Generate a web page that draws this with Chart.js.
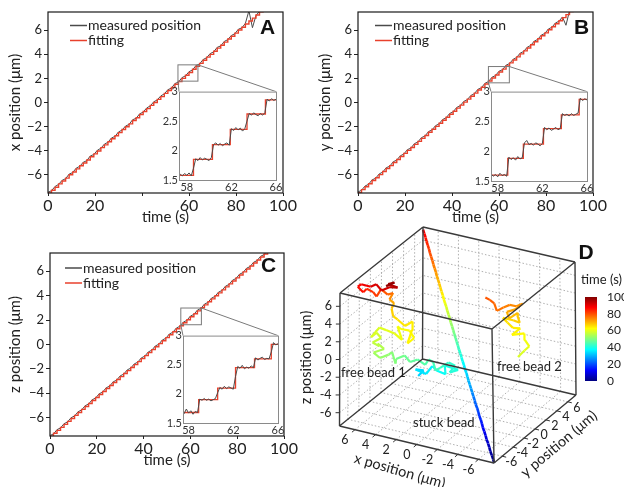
<!DOCTYPE html>
<html>
<head>
<meta charset="utf-8">
<script src="https://cdn.jsdelivr.net/npm/chart.js@4"></script>
<style>
html, body { margin: 0; padding: 0; background: #fff; }
#fig { position: relative; width: 624px; height: 487px; overflow: hidden; }
#fig canvas { position: absolute; }
</style>
</head>
<body>
<div id="fig">
  <canvas id="chartA" width="300" height="226" style="left:0px;top:0px"></canvas>
  <canvas id="insetA" width="140" height="112" style="left:150px;top:84px"></canvas>
  <canvas id="chartB" width="314" height="226" style="left:310px;top:0px"></canvas>
  <canvas id="insetB" width="140" height="112" style="left:460px;top:84px"></canvas>
  <canvas id="chartC" width="300" height="229" style="left:0px;top:240px"></canvas>
  <canvas id="insetC" width="140" height="112" style="left:150px;top:328px"></canvas>
  <canvas id="chartD" width="324" height="265" style="left:300px;top:222px"></canvas>
  <canvas id="colorbar" width="49" height="125" style="left:575px;top:268px"></canvas>
</div>
<script>
// Data Store
const tMain = [0,1.5,3,4.5,6,7.5,9,10.5,12,13.5,15,16.5,18,19.5,21,22.5,24,25.5,27,28.5,30,31.5,33,34.5,36,37.5,39,40.5,42,43.5,45,46.5,48,49.5,51,52.5,54,55.5,57,58.5,60,61.5,63,64.5,66,67.5,69,70.5,72,73.5,75,76.5,78,79.5,81,82.5,84,85.5,87,88.5,90,91.5,93];

// fitted staircase (um)
const fitX = [-7.50,-7.27,-7.02,-6.74,-6.51,-6.27,-5.99,-5.76,-5.50,-5.24,
  -5.01,-4.77,-4.49,-4.26,-4.02,-3.74,-3.51,-3.25,-3.00,-2.76,
  -2.50,-2.24,-2.01,-1.77,-1.49,-1.26,-1.00,-0.75,-0.51,-0.24,
  0.00,0.26,0.49,0.76,1.00,1.24,1.51,1.74,2.00,2.26,
  2.49,2.75,3.01,3.24,3.50,3.76,3.99,4.25,4.51,4.74,
  5.00,5.26,5.49,5.75,6.01,6.24,6.50,6.76,6.99,7.25,
  7.51,7.76,8.01];
const fitY = [-7.48,-7.22,-6.98,-6.73,-6.47,-6.23,-5.98,-5.72,-5.47,-5.23,
  -4.97,-4.72,-4.48,-4.22,-3.97,-3.73,-3.47,-3.22,-2.97,-2.73,
  -2.47,-2.22,-1.98,-1.72,-1.47,-1.22,-0.97,-0.72,-0.47,-0.22,
  0.03,0.28,0.52,0.78,1.03,1.27,1.53,1.78,2.03,2.28,
  2.53,2.77,3.03,3.28,3.52,3.78,4.03,4.28,4.52,4.78,
  5.03,5.28,5.53,5.77,6.03,6.28,6.53,6.78,7.03,7.28,
  7.53,7.78,8.03];
const fitZ = [-7.52,-7.28,-7.04,-6.79,-6.55,-6.30,-6.06,-5.81,-5.57,-5.32,
  -5.08,-4.83,-4.59,-4.34,-4.10,-3.85,-3.61,-3.36,-3.12,-2.87,
  -2.63,-2.38,-2.14,-1.89,-1.65,-1.40,-1.16,-0.91,-0.67,-0.42,
  -0.18,0.07,0.31,0.56,0.80,1.05,1.29,1.54,1.78,2.03,
  2.27,2.52,2.76,3.01,3.25,3.50,3.74,3.99,4.23,4.48,
  4.72,4.97,5.21,5.46,5.70,5.95,6.19,6.44,6.68,6.93,
  7.17,7.42,7.66];

// measured positions (um)
const measX = [-7.44,-7.31,-6.96,-6.79,-6.45,-6.31,-5.93,-5.81,-5.44,-5.29,
  -4.95,-4.82,-4.43,-4.31,-3.96,-3.79,-3.45,-3.30,-2.94,-2.81,
  -2.44,-2.29,-1.95,-1.82,-1.43,-1.31,-0.94,-0.80,-0.45,-0.29,
  0.06,0.21,0.55,0.71,1.06,1.19,1.57,1.69,2.06,2.21,
  2.55,2.70,3.07,3.19,3.56,3.71,4.05,4.20,4.57,4.69,
  5.06,5.21,5.55,5.70,6.07,6.19,6.56,7.60,6.20,7.20,
  7.57,7.71,8.07];
const measY = [-7.42,-7.27,-6.92,-6.78,-6.41,-6.28,-5.92,-5.77,-5.41,-5.28,
  -4.91,-4.77,-4.42,-4.27,-3.91,-3.78,-3.41,-3.27,-2.91,-2.78,
  -2.41,-2.27,-1.92,-1.77,-1.41,-1.27,-0.91,-0.77,-0.41,-0.27,
  0.09,0.23,0.58,0.73,1.09,1.22,1.59,1.73,2.09,2.23,
  2.59,2.72,3.09,3.23,3.58,3.73,4.09,4.23,4.58,4.73,
  5.09,5.23,5.59,5.72,6.09,6.23,6.59,6.73,7.09,6.40,
  7.59,7.73,8.09];
const measZ = [-7.46,-7.33,-6.98,-6.84,-6.49,-6.35,-6.00,-5.86,-5.51,-5.37,
  -5.02,-4.88,-4.53,-4.39,-4.04,-3.90,-3.55,-3.41,-3.06,-2.92,
  -2.57,-2.43,-2.08,-1.94,-1.59,-1.45,-1.10,-0.96,-0.61,-0.47,
  -0.12,0.02,0.37,0.51,0.86,1.00,1.35,1.49,1.84,1.98,
  2.33,2.47,2.82,2.96,3.31,3.45,3.80,3.94,4.29,4.43,
  4.78,4.92,5.27,5.41,5.76,5.90,6.25,6.39,6.74,6.88,
  7.23,7.37,7.72];

// zoomed insets, 58-66 s
const tInset = [57.4,57.6,57.8,58,58.2,58.4,58.6,58.8,59,59.2,59.4,59.6,59.8,60,60.2,60.4,60.6,60.8,61,61.2,61.4,61.6,61.8,62,62.2,62.4,62.6,62.8,63,63.2,63.4,63.6,63.8,64,64.2,64.4,64.6,64.8,65,65.2,65.4,65.6,65.8,66];
const insetMeasX = [1.60,1.57,1.61,1.58,1.62,1.57,1.70,1.86,1.83,1.88,
  1.84,1.87,1.85,1.83,1.88,2.10,2.13,2.09,2.12,2.08,
  2.11,2.13,2.09,2.37,2.34,2.39,2.35,2.38,2.33,2.37,
  2.50,2.63,2.60,2.64,2.61,2.59,2.63,2.60,2.64,2.87,
  2.84,2.88,2.85,2.87];
const insetMeasY = [1.62,1.58,1.61,1.57,1.63,1.59,1.61,1.58,1.90,1.86,
  1.89,1.85,1.91,1.87,1.89,2.14,2.18,2.11,2.13,2.10,
  2.14,2.12,2.09,2.13,2.40,2.36,2.39,2.35,2.37,2.40,
  2.36,2.38,2.63,2.60,2.62,2.59,2.63,2.60,2.62,2.64,
  2.89,2.85,2.88,2.86];
const insetMeasZ = [1.70,1.66,1.74,1.67,1.71,1.65,1.70,1.68,1.91,1.89,
  1.92,1.89,1.91,1.88,1.90,1.92,2.02,2.11,2.08,2.13,
  2.09,2.12,2.10,2.08,2.30,2.47,2.44,2.49,2.43,2.46,
  2.44,2.48,2.45,2.62,2.58,2.61,2.63,2.59,2.61,2.60,
  2.72,2.88,2.84,2.86];
const insetStepTX = [57.3,58.6,60.3,61.9,63.4,65.05,66];
const insetStepX = [1.58,1.85,2.10,2.36,2.62,2.86,2.86];
const insetStepTY = [57.4,58.9,60.3,62.1,63.7,65.3,66];
const insetStepY = [1.60,1.88,2.12,2.38,2.61,2.87,2.87];
const insetStepTZ = [57.5,58.9,60.6,62.2,63.9,65.4,66];
const insetStepZ = [1.68,1.90,2.10,2.45,2.60,2.85,2.85];

// tick labels
const timeTicks = [0, 20, 40, 60, 80, 100];
const posTicks = [-6, -4, -2, 0, 2, 4, 6];
const insetTimeTicks = [58, 62, 66];
const insetPosTicks = [1.5, 2, 2.5, 3];
const colorTicks = [0, 20, 40, 60, 80, 100];

// free beads in 3D (um) and time (s)
const bead1T = [33,34,35,36,37,38,39,40,41,41.5,42,43,44,44.5,45,45.5,46,47,48,49,
  50,50.5,51,52,53,54,55,55.5,56,57,58,58.5,59,59.5,60,60.5,61,61.5,62,62.5,
  63,63.5,64,64.5,65,66,67,69,71,74,77,79,81,82,83,85,86,87,89,91,91.5,92,94,95,96,98,99];
const bead1X = [1.45,0.96,1.65,0.67,0.18,-0.41,-1.29,-1.10,-2.47,-1.69,
  -2.18,-1.49,-0.71,-0.31,-0.02,0.47,0.76,1.45,2.24,2.82,
  3.61,3.61,4.00,4.39,5.18,5.76,4.78,5.47,5.27,5.86,
  5.08,5.57,6.06,5.18,4.59,3.80,3.02,3.41,3.12,2.33,
  1.84,2.43,2.04,2.04,2.73,3.41,3.90,4.10,3.80,4.20,
  3.90,4.49,5.08,5.47,5.86,6.55,6.84,7.33,7.04,6.16,
  5.57,4.98,4.20,3.51,4.39,3.71,4.59];
const bead1Y = [-4.5,-4.4,-4.6,-4.5,-4.3,-4.5,-4.6,-4.4,-4.5,-4.6,
  -4.5,-4.4,-4.5,-4.6,-4.5,-4.4,-4.5,-4.6,-4.5,-4.4,
  -4.5,-4.6,-4.5,-4.4,-4.5,-4.6,-4.5,-4.4,-4.5,-4.6,
  -4.5,-4.4,-4.5,-4.6,-4.5,-4.4,-4.5,-4.6,-4.5,-4.4,
  -4.5,-4.6,-4.5,-4.4,-4.5,-4.6,-4.5,-4.4,-4.5,-4.6,
  -4.5,-4.4,-4.5,-4.6,-4.5,-4.4,-4.5,-4.6,-4.5,-4.4,
  -4.5,-4.6,-4.5,-4.4,-4.5,-4.6,-4.5];
const bead1Z = [-1.71,-0.99,-0.97,-1.27,-0.34,-0.62,-0.72,0.12,0.05,-0.39,
  0.43,0.57,-0.21,-0.54,0.28,0.37,-0.27,0.21,-0.34,0.18,
  -0.39,-0.84,0.30,-0.15,-0.70,-0.19,0.43,0.80,0.62,0.91,
  1.58,2.00,1.42,2.79,2.61,2.38,1.93,3.39,3.13,3.12,
  2.47,1.74,3.32,4.22,3.58,4.18,4.38,5.12,5.87,6.22,
  6.98,6.59,7.10,6.21,6.55,6.69,6.28,6.82,7.12,7.03,
  7.53,7.02,7.57,7.65,7.86,8.27,7.57];
const bead2T = [59,60,61,62,63,63.5,64,65,65.5,66,67,67.5,68,69,70,71,72,73,74,75,76,77,78,79,80];
const bead2X = [-2.65,-3.24,-3.82,-3.33,-3.24,-2.06,-2.94,-2.16,-1.57,-1.18,
  -2.25,-2.84,-2.55,-2.65,-1.86,-1.57,-2.35,-3.14,-2.55,-1.86,
  -1.18,-0.59,-0.39,0.10,0.59];
const bead2Y = [6.0,6.1,5.9,6.0,6.1,6.0,5.9,6.0,6.1,6.0,
  5.9,6.0,6.1,6.0,5.9,6.0,6.1,6.0,5.9,6.0,
  6.1,6.0,5.9,6.0,6.1];
const bead2Z = [-3.75,-2.91,-2.18,-1.63,-0.99,-1.42,-0.39,-0.60,-0.20,0.27,
  0.34,0.16,0.87,1.23,0.45,1.05,1.49,2.39,2.00,1.92,
  1.40,0.90,1.75,1.96,2.05];

const FONT = 'Lato, "DejaVu Sans", sans-serif';
const GREY = '#4a4a4a';
const RED = '#e8412c';
const INK = '#222';
Chart.defaults.font.family = FONT;
Chart.defaults.color = INK;

const fmtNum = v => (v < 0 ? '\u2212' + Math.abs(v) : String(v));
const toPoints = (xs, ys) => xs.map((x, i) => ({ x: x, y: ys[i] }));

function jet(f) {
    const c = v => Math.round(255 * Math.max(0, Math.min(1, v)));
    return 'rgb(' + c(1.5 - Math.abs(4 * f - 3)) + ',' + c(1.5 - Math.abs(4 * f - 2)) + ',' + c(1.5 - Math.abs(4 * f - 1)) + ')';
}

/**
 * Insets
 */
const insetDecor = {
    id: 'insetDecor',
    beforeDraw(chart) {
        const { ctx, chartArea: a } = chart;
        ctx.save();
        ctx.fillStyle = '#fff';
        ctx.fillRect(a.left, a.top, a.right - a.left, a.bottom - a.top);
        ctx.restore();
    },
    afterDraw(chart) {
        const { ctx, chartArea: a } = chart;
        ctx.save();
        ctx.strokeStyle = '#8a8a8a';
        ctx.lineWidth = 1;
        ctx.strokeRect(a.left + 0.5, a.top + 0.5, a.right - a.left, a.bottom - a.top);
        ctx.restore();
    }
};

function makeInset(id, p) {
    return new Chart(document.getElementById(id), {
        type: 'line',
        data: {
            datasets: [
                { data: toPoints(tInset, p.meas), borderColor: GREY, borderWidth: 1, pointRadius: 0, order: 1 },
                { data: toPoints(p.stepT, p.step), borderColor: RED, borderWidth: 1.3, pointRadius: 0, stepped: true, order: 2 }
            ]
        },
        options: {
            responsive: false, animation: false, events: [],
            layout: { padding: { top: 7, right: p.padRight, left: 0, bottom: 0 } },
            plugins: { legend: { display: false }, tooltip: { enabled: false } },
            scales: {
                x: {
                    type: 'linear', min: p.xMin, max: 66,
                    afterBuildTicks: s => { s.ticks = insetTimeTicks.map(v => ({ value: v })); },
                    afterFit: s => { s.height = p.xHeight; },
                    ticks: { font: { size: 11 }, color: '#333', padding: 1, maxRotation: 0, autoSkip: false, callback: v => String(v) },
                    grid: { drawOnChartArea: false, drawTicks: false }, border: { display: false }
                },
                y: {
                    min: 1.5, max: 3,
                    afterBuildTicks: s => { s.ticks = insetPosTicks.map(v => ({ value: v })); },
                    afterFit: s => { s.width = p.yWidth; },
                    ticks: { font: { size: 11 }, color: '#333', padding: 1, autoSkip: false, callback: v => String(v) },
                    grid: { drawOnChartArea: false, drawTicks: false }, border: { display: false }
                }
            }
        },
        plugins: [insetDecor]
    });
}

/**
 * Main panels A, B, C
 */
const panelDecor = {
    id: 'panelDecor',
    afterDraw(chart, args, o) {
        const { ctx, chartArea: a, scales } = chart;
        ctx.save();
        // axes box
        ctx.strokeStyle = '#1a1a1a';
        ctx.lineWidth = 1.2;
        ctx.strokeRect(a.left, a.top, a.right - a.left, a.bottom - a.top);

        // legend
        chart.data.datasets.forEach((ds, i) => {
            const x = a.left + o.legendDx;
            const y = a.top + o.legendDy + i * 15;
            ctx.strokeStyle = ds.borderColor;
            ctx.lineWidth = 1.5;
            ctx.beginPath(); ctx.moveTo(x, y); ctx.lineTo(x + 17, y); ctx.stroke();
            ctx.fillStyle = INK;
            ctx.font = '14px ' + FONT;
            ctx.textAlign = 'left';
            ctx.textBaseline = 'middle';
            ctx.fillText(ds.label, x + 18, y);
        });

        // panel letter
        ctx.fillStyle = '#111';
        ctx.font = 'bold 21px "Liberation Sans", Arial, sans-serif';
        ctx.textAlign = 'center';
        ctx.textBaseline = 'middle';
        ctx.fillText(o.letter, a.right + o.letterDx, a.top + o.letterDy);

        // zoom box and connectors to the inset
        const zb = o.zoomBox;
        const x0 = scales.x.getPixelForValue(zb[0]), x1 = scales.x.getPixelForValue(zb[1]);
        const y0 = scales.y.getPixelForValue(zb[2]), y1 = scales.y.getPixelForValue(zb[3]);
        const ins = o.inset;
        const dx = ins.canvas.offsetLeft - chart.canvas.offsetLeft;
        const dy = ins.canvas.offsetTop - chart.canvas.offsetTop;
        const ia = ins.chartArea;
        ctx.strokeStyle = '#7a7a7a';
        ctx.lineWidth = 1;
        ctx.strokeRect(x0, y1, x1 - x0, y0 - y1);
        ctx.beginPath();
        ctx.moveTo(x0, y0); ctx.lineTo(dx + ia.left, dy + ia.top);
        ctx.moveTo(x1, y1); ctx.lineTo(dx + ia.right, dy + ia.top);
        ctx.stroke();
        ctx.restore();
    }
};

function makeMain(id, p) {
    return new Chart(document.getElementById(id), {
        type: 'line',
        data: {
            datasets: [
                { label: 'measured position', data: toPoints(tMain, p.meas), borderColor: GREY, borderWidth: 1, pointRadius: 0, order: 2 },
                { label: 'fitting', data: toPoints(tMain, p.fit), borderColor: RED, borderWidth: 1.4, pointRadius: 0, stepped: true, order: 1 }
            ]
        },
        options: {
            responsive: false, animation: false, events: [],
            layout: { padding: { top: p.padTop, right: p.padRight, left: 0, bottom: 0 } },
            plugins: {
                legend: { display: false }, tooltip: { enabled: false },
                panelDecor: p.decor
            },
            scales: {
                x: {
                    type: 'linear', min: 0, max: 100,
                    afterBuildTicks: s => { s.ticks = timeTicks.map(v => ({ value: v })); },
                    afterFit: s => { s.height = 33; },
                    ticks: { font: { size: 16 }, color: INK, padding: 0, maxRotation: 0, autoSkip: false,
                        callback: v => (p.hideX.includes(v) ? '' : v) },
                    grid: { drawOnChartArea: false, tickLength: 3, color: '#222' }, border: { display: false },
                    title: { display: true, text: 'time (s)', font: { size: 15 }, color: INK, padding: { top: 0, bottom: 0 } }
                },
                y: {
                    min: -7.5, max: 7.5,
                    afterBuildTicks: s => { s.ticks = posTicks.map(v => ({ value: v })); },
                    afterFit: s => { s.width = p.yWidth; },
                    ticks: { font: { size: 13 }, color: INK, padding: 2, autoSkip: false, callback: v => fmtNum(v) },
                    grid: { drawOnChartArea: false, tickLength: 4, color: '#222' }, border: { display: false },
                    title: { display: true, text: p.yTitle, font: { size: 15 }, color: INK, padding: { top: 6, bottom: 0 } }
                }
            }
        },
        plugins: [panelDecor]
    });
}

const insetA = makeInset('insetA', { meas: insetMeasX, stepT: insetStepTX, step: insetStepX, xMin: 57.3, padRight: 14, xHeight: 16, yWidth: 29 });
const insetB = makeInset('insetB', { meas: insetMeasY, stepT: insetStepTY, step: insetStepY, xMin: 57.4, padRight: 13, xHeight: 15, yWidth: 31 });
const insetC = makeInset('insetC', { meas: insetMeasZ, stepT: insetStepTZ, step: insetStepZ, xMin: 57.5, padRight: 12, xHeight: 17, yWidth: 33 });

makeMain('chartA', { meas: measX, fit: fitX, yTitle: 'x position (\u03bcm)', hideX: [40], padTop: 12, padRight: 17, yWidth: 48,
    decor: { letter: 'A', legendDx: 22, legendDy: 13.5, letterDx: -15.5, letterDy: 16.5, zoomBox: [55.3, 63.8, 1.77, 3.12], inset: insetA } });
makeMain('chartB', { meas: measY, fit: fitY, yTitle: 'y position (\u03bcm)', hideX: [], padTop: 12, padRight: 31, yWidth: 48,
    decor: { letter: 'B', legendDx: 17, legendDy: 13.5, letterDx: -11.5, letterDy: 16.5, zoomBox: [55.5, 64.4, 1.63, 2.98], inset: insetB } });
makeMain('chartC', { meas: measZ, fit: fitZ, yTitle: 'z position (\u03bcm)', hideX: [], padTop: 13, padRight: 16, yWidth: 50,
    decor: { letter: 'C', legendDx: 15, legendDy: 15, letterDx: -15.5, letterDy: 13.5, zoomBox: [55.9, 64.7, 1.62, 2.99], inset: insetC } });

/**
 * Panel D: 3D trajectories, projected onto the page
 */
const LIM = 7.5;
// page position of the eight box corners, keyed u v w
// (u: x from +7.5 to -7.5, v: y from -7.5 to +7.5, w: z from -7.5 to +7.5)
const boxCorners = {
    '000': [339.5, 426], '100': [494, 463], '010': [422.5, 359], '110': [576, 395],
    '001': [340, 293], '101': [492, 329], '011': [423, 227], '111': [575, 262]
};

function project(x, y, z) {
    const u = (LIM - x) / (2 * LIM), v = (y + LIM) / (2 * LIM), w = (z + LIM) / (2 * LIM);
    let px = 0, py = 0;
    Object.keys(boxCorners).forEach(k => {
        const wt = (k[0] === '1' ? u : 1 - u) * (k[1] === '1' ? v : 1 - v) * (k[2] === '1' ? w : 1 - w);
        px += wt * boxCorners[k][0];
        py += wt * boxCorners[k][1];
    });
    return { x: px, y: py };
}

function segments(list) {
    const pts = [];
    list.forEach(seg => {
        pts.push(project(...seg[0]), project(...seg[1]), { x: null, y: null });
    });
    return pts;
}

// 12 box edges
const edgeSegs = [];
[-LIM, LIM].forEach(a => [-LIM, LIM].forEach(b => {
    edgeSegs.push([[-LIM, a, b], [LIM, a, b]]);
    edgeSegs.push([[a, -LIM, b], [a, LIM, b]]);
    edgeSegs.push([[a, b, -LIM], [a, b, LIM]]);
}));

// dotted grid on back wall, left wall and floor
const gridSegs = [];
posTicks.forEach(t => {
    gridSegs.push([[t, LIM, -LIM], [t, LIM, LIM]], [[-LIM, LIM, t], [LIM, LIM, t]]);
    gridSegs.push([[LIM, t, -LIM], [LIM, t, LIM]], [[LIM, -LIM, t], [LIM, LIM, t]]);
    gridSegs.push([[t, -LIM, -LIM], [t, LIM, -LIM]], [[-LIM, t, -LIM], [LIM, t, -LIM]]);
});

// stuck bead: the stage trajectory from panels A-C
const stuckIdx = tMain.map((t, i) => i).filter(i => Math.abs(fitX[i]) <= 7.55 && Math.abs(fitY[i]) <= 7.55 && Math.abs(fitZ[i]) <= 7.55);
const stuckT = stuckIdx.map(i => tMain[i]);
const stuckPts = stuckIdx.map(i => project(fitX[i], fitY[i], fitZ[i]));
const bead1Pts = bead1T.map((t, i) => project(bead1X[i], bead1Y[i], bead1Z[i]));
const bead2Pts = bead2T.map((t, i) => project(bead2X[i], bead2Y[i], bead2Z[i]));

function trackSet(points, times, width) {
    return {
        data: points, showLine: true, pointRadius: 0, borderWidth: width, order: 1,
        borderColor: jet(times[0] / 100), borderJoinStyle: 'round',
        segment: { borderColor: c => jet(times[c.p0DataIndex] / 100) }
    };
}

const dDecor = {
    id: 'dDecor',
    afterDatasetsDraw(chart) {
        const { ctx, scales: { x: sx, y: sy } } = chart;
        const px = p => [sx.getPixelForValue(p.x), sy.getPixelForValue(p.y)];
        const txt = (s, p, dx, dy, align, ang) => {
            const [x, y] = px(p);
            ctx.save();
            ctx.translate(x + dx, y + dy);
            ctx.rotate(ang || 0);
            ctx.textAlign = align;
            ctx.fillText(s, 0, 0);
            ctx.restore();
        };
        const tick = (p, dx, dy) => {
            const [x, y] = px(p);
            ctx.beginPath(); ctx.moveTo(x, y); ctx.lineTo(x + dx, y + dy); ctx.stroke();
        };
        ctx.save();
        ctx.fillStyle = INK;
        ctx.strokeStyle = '#333';
        ctx.lineWidth = 1;
        ctx.textBaseline = 'middle';
        ctx.font = '12.5px ' + FONT;
        posTicks.forEach(t => {
            const lab = String(t);
            const pz = project(LIM, -LIM, t);
            tick(pz, -4, 0);
            txt(lab, pz, -8, 0, 'right');
            const pxx = project(t, -LIM, -LIM);
            tick(pxx, -3, 2.5);
            txt(lab, pxx, -10, 10.5, 'center');
            const py = project(-LIM, t, -LIM);
            tick(py, 4, 1);
            txt(lab, py, 9, 6, 'center');
        });
        ctx.font = '14.5px ' + FONT;
        txt('x position (\u03bcm)', project(0, -LIM, -LIM), -17, 26.5, 'center', 16 * Math.PI / 180);
        txt('y position (\u03bcm)', project(-LIM, 0, -LIM), 24, 15, 'center', -40 * Math.PI / 180);
        txt('z position (\u03bcm)', project(LIM, -LIM, 0), -33, -2, 'center', -Math.PI / 2);
        ctx.font = '13px ' + FONT;
        txt('free bead 1', { x: 341, y: 373 }, 0, 0, 'left');
        txt('free bead 2', { x: 497, y: 367 }, 0, 0, 'left');
        txt('stuck bead', { x: 413, y: 423 }, 0, 0, 'left');
        ctx.fillStyle = '#111';
        ctx.font = 'bold 21px "Liberation Sans", Arial, sans-serif';
        txt('D', { x: 586, y: 253 }, 0, 0, 'center');
        ctx.restore();
    }
};

new Chart(document.getElementById('chartD'), {
    type: 'scatter',
    data: {
        datasets: [
            { data: segments(edgeSegs), showLine: true, pointRadius: 0, borderColor: '#3a3a3a', borderWidth: 1.4, order: 0 },
            trackSet(stuckPts, stuckT, 2.6),
            trackSet(bead1Pts, bead1T, 2.2),
            trackSet(bead2Pts, bead2T, 2.2),
            { data: segments(gridSegs), showLine: true, pointRadius: 0, borderColor: '#9c9c9c', borderWidth: 0.8, borderDash: [1.5, 2], order: 3 }
        ]
    },
    options: {
        responsive: false, animation: false, events: [],
        layout: { padding: 0 },
        plugins: { legend: { display: false }, tooltip: { enabled: false } },
        scales: {
            x: { type: 'linear', min: 300, max: 624, display: false },
            y: { type: 'linear', min: 222, max: 487, reverse: true, display: false }
        }
    },
    plugins: [dDecor]
});

// colour bar for time
const cbStops = [0, 0.125, 0.25, 0.375, 0.5, 0.625, 0.75, 0.875, 1];
new Chart(document.getElementById('colorbar'), {
    type: 'bar',
    data: {
        labels: [''],
        datasets: [{
            data: [[0, 100]], barPercentage: 1, categoryPercentage: 1, borderWidth: 0,
            backgroundColor: c => {
                const a = c.chart.chartArea;
                if (!a) return '#000';
                const g = c.chart.ctx.createLinearGradient(0, a.bottom, 0, a.top);
                cbStops.forEach(s => g.addColorStop(s, jet(s)));
                return g;
            }
        }]
    },
    options: {
        responsive: false, animation: false, events: [],
        layout: { padding: { top: 29, bottom: 12, left: 10, right: 0 } },
        plugins: { legend: { display: false }, tooltip: { enabled: false } },
        scales: {
            x: { display: false },
            y: {
                position: 'right', min: 0, max: 100,
                afterBuildTicks: s => { s.ticks = colorTicks.map(v => ({ value: v })); },
                afterFit: s => { s.width = 27; },
                ticks: { font: { size: 12 }, color: INK, padding: 2, autoSkip: false },
                grid: { display: false }, border: { display: false }
            }
        }
    },
    plugins: [{
        id: 'cbTitle',
        afterDraw(chart) {
            const ctx = chart.ctx;
            ctx.save();
            ctx.fillStyle = INK;
            ctx.font = '13px ' + FONT;
            ctx.textAlign = 'center';
            ctx.textBaseline = 'middle';
            ctx.fillText('time (s)', 26.5, 12);
            ctx.restore();
        }
    }]
});
</script>
</body>
</html>
